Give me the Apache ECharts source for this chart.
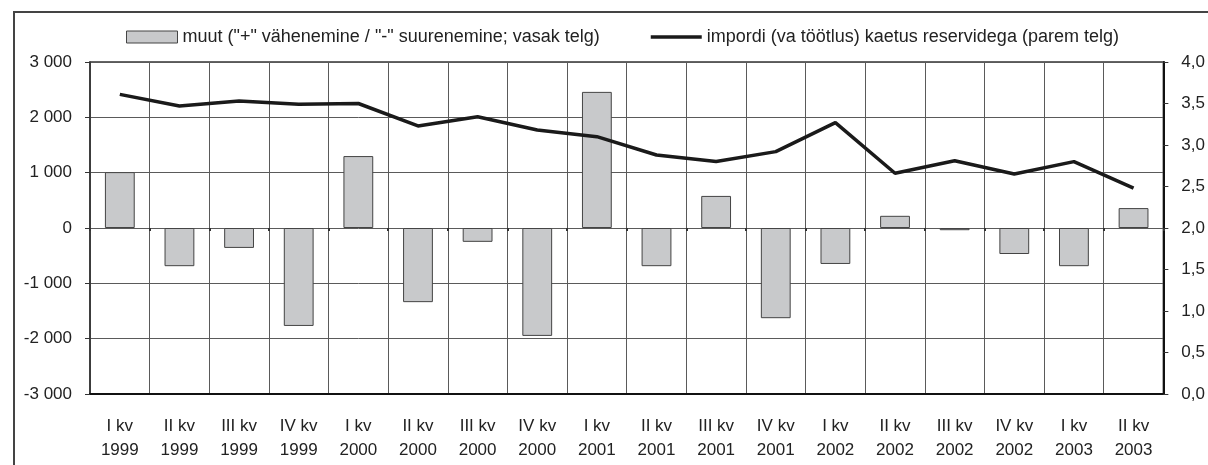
<!DOCTYPE html>
<html>
<head>
<meta charset="utf-8">
<script src="https://cdn.jsdelivr.net/npm/echarts@6/dist/echarts.min.js"></script>
<style>
html,body{margin:0;padding:0;background:#fff;}
#chart{width:1208px;height:465px;}
</style>
</head>
<body>
<div id="chart"></div>
<script>
const categories = ['I kv\n1999','II kv\n1999','III kv\n1999','IV kv\n1999',
  'I kv\n2000','II kv\n2000','III kv\n2000','IV kv\n2000',
  'I kv\n2001','II kv\n2001','III kv\n2001','IV kv\n2001',
  'I kv\n2002','II kv\n2002','III kv\n2002','IV kv\n2002',
  'I kv\n2003','II kv\n2003'];
const barName = 'muut ("+" vähenemine / "-" suurenemine; vasak telg)';
const lineName = 'impordi (va töötlus) kaetus reservidega (parem telg)';
const barValues = [1010, -690, -360, -1770, 1300, -1340, -250, -1950, 2460, -690, 580, -1630, -650, 220, -40, -470, -690, 360];
const lineValues = [3.61, 3.47, 3.53, 3.49, 3.50, 3.23, 3.34, 3.18, 3.10, 2.88, 2.80, 2.92, 3.27, 2.66, 2.81, 2.65, 2.80, 2.48];

const FONT = '"Liberation Sans", Arial, sans-serif';
const chart = echarts.init(document.getElementById('chart'), null, {renderer: 'canvas'});
chart.setOption({
  animation: false,
  backgroundColor: '#fff',
  textStyle: {fontFamily: FONT},
  graphic: [{
    type: 'rect', silent: true,
    shape: {x: 14, y: 12, width: 1400, height: 700},
    style: {fill: 'none', stroke: '#444', lineWidth: 2}
  }],
  legend: {
    left: 126, top: 28, padding: 0,
    itemWidth: 51, itemHeight: 12, itemGap: 51,
    textStyle: {fontFamily: FONT, fontSize: 18, color: '#222'},
    data: [
      {name: barName, icon: 'rect', itemStyle: {color: '#c8c9cb', borderColor: '#444', borderWidth: 1}},
      {name: lineName, icon: 'path://M0,0H51V3.5H0Z', itemStyle: {color: '#1a1a1a'}}
    ]
  },
  grid: {left: 90, right: 43, top: 62, bottom: 71, show: true, borderColor: '#333', borderWidth: 1.5},
  xAxis: [{
    type: 'category', data: categories, boundaryGap: true,
    axisLine: {onZero: false, lineStyle: {color: '#111', width: 2}},
    axisTick: {show: false},
    splitLine: {show: true, interval: 0, lineStyle: {color: '#5a5a5a', width: 1}},
    axisLabel: {interval: 0, margin: 20, fontSize: 17, lineHeight: 24, color: '#222', fontFamily: FONT}
  }, {
    type: 'category', data: categories, boundaryGap: true, position: 'bottom',
    axisLine: {show: false, onZero: true, onZeroAxisIndex: 0},
    axisTick: {show: true, interval: 0, length: 3, lineStyle: {color: '#333', width: 2}},
    splitLine: {show: false},
    axisLabel: {show: false}
  }],
  yAxis: [{
    type: 'value', min: -3000, max: 3000, interval: 1000, position: 'left',
    axisLine: {show: true, lineStyle: {color: '#333', width: 1.5}},
    axisTick: {show: true, length: 5, lineStyle: {color: '#333'}},
    splitLine: {show: true, lineStyle: {color: '#5a5a5a', width: 1}},
    axisLabel: {margin: 18, fontSize: 17, color: '#222', fontFamily: FONT,
      formatter: v => { const s = Math.abs(v).toString().replace(/\B(?=(\d{3})+(?!\d))/g, ' '); return (v < 0 ? '-' : '') + s; }}
  }, {
    type: 'value', min: 0, max: 4, interval: 0.5, position: 'right',
    axisLine: {show: true, lineStyle: {color: '#111', width: 2}},
    axisTick: {show: true, length: 5, lineStyle: {color: '#333'}},
    splitLine: {show: false},
    axisLabel: {margin: 18, fontSize: 17, color: '#222', fontFamily: FONT,
      formatter: v => v.toFixed(1).replace('.', ',')}
  }],
  series: [{
    name: barName, type: 'bar', xAxisIndex: 0, yAxisIndex: 0, data: barValues, barWidth: '50%',
    itemStyle: {color: '#c8c9cb', borderColor: '#444', borderWidth: 1}
  }, {
    name: lineName, type: 'line', xAxisIndex: 0, yAxisIndex: 1, data: lineValues,
    symbol: 'none', lineStyle: {color: '#1a1a1a', width: 3.5}, itemStyle: {color: '#1a1a1a'}
  }]
});
</script>
</body>
</html>
